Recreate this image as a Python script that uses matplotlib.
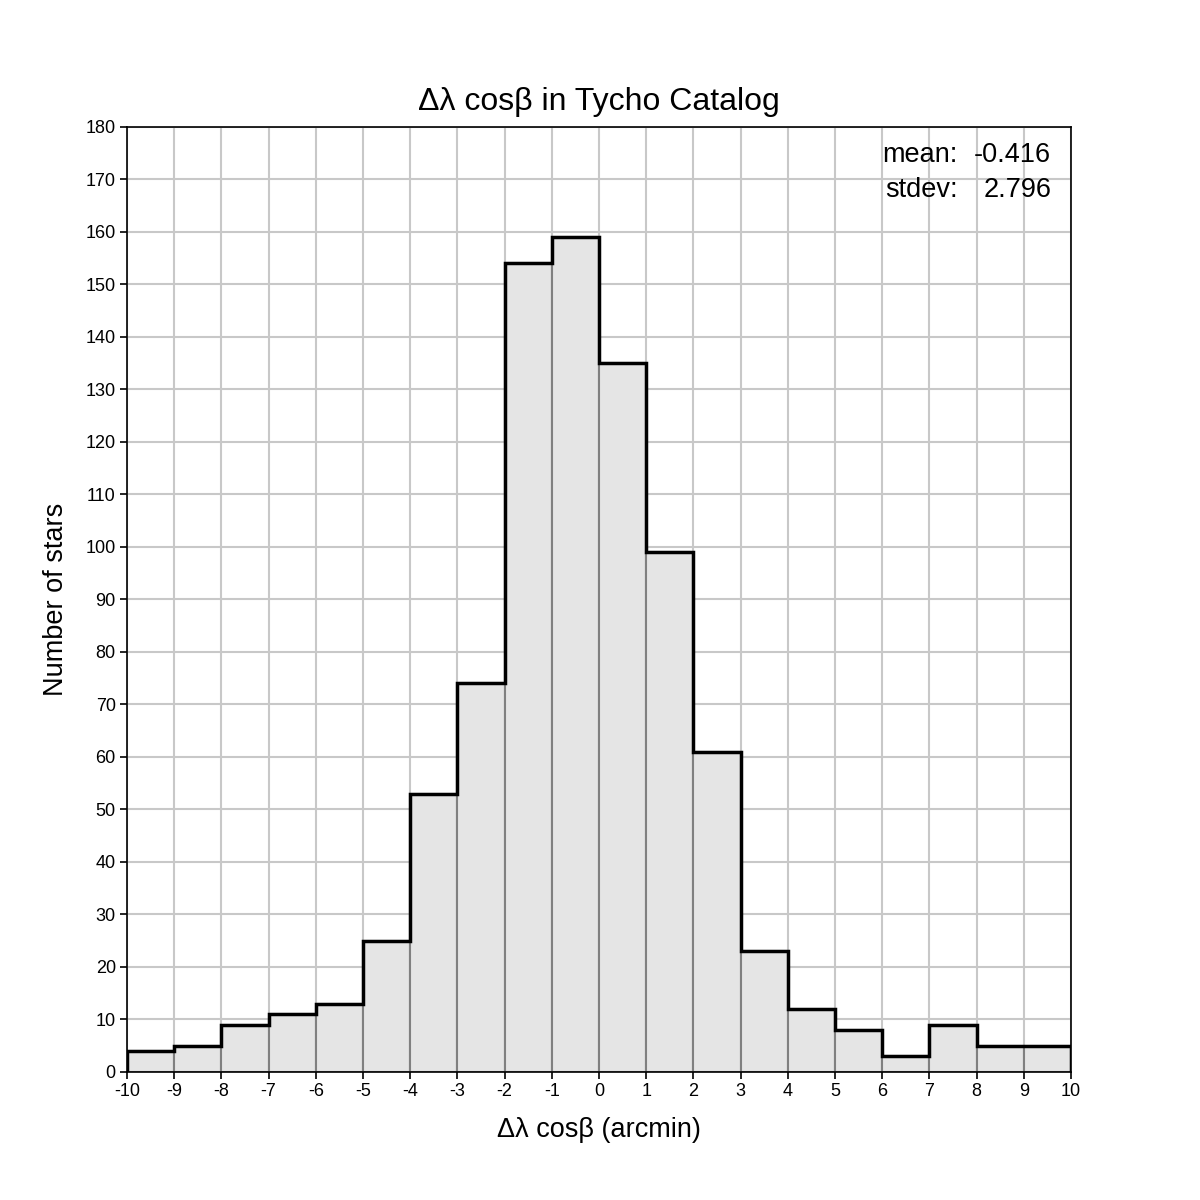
import matplotlib
matplotlib.use("Agg")
import matplotlib.pyplot as plt
import numpy as np

plt.rcParams['font.family'] = ['Liberation Sans', 'DejaVu Sans']

# histogram bins (arcmin) and counts
bin_edges = list(range(-10, 11))
counts = [4, 5, 9, 11, 13, 25, 53, 74, 154, 159, 135, 99, 61, 23, 12, 8, 3, 9, 5, 5]
stat_labels = ["mean:", "stdev:"]
stat_values = ["-0.416", "2.796"]

fig = plt.figure(figsize=(12, 12), dpi=100)
ax = fig.add_axes([0.1058, 0.1067, 0.7867, 0.7875])

edges = np.array(bin_edges)
ax.bar(edges[:-1], counts, width=1, align='edge', color='#e5e5e5',
       edgecolor='#808080', linewidth=1.5, zorder=2)
ax.stairs(counts, edges, color='black', linewidth=2.5, zorder=3)

ax.set_xlim(-10, 10)
ax.set_ylim(0, 180)
ax.set_xticks(bin_edges)
ax.set_xticklabels([str(v) for v in bin_edges])
ax.set_yticks(range(0, 181, 10))
ax.grid(True, color='#c8c8c8', linewidth=1.5, zorder=0)
ax.set_axisbelow(True)
ax.tick_params(labelsize=13, length=5, width=1.2, pad=3)
for s in ax.spines.values():
    s.set_linewidth(1.2)
    s.set_zorder(4)

ax.set_title("Δλ cosβ in Tycho Catalog", fontsize=23, pad=12)
ax.set_xlabel("Δλ cosβ (arcmin)", fontsize=19.5, labelpad=12)
ax.set_ylabel("Number of stars", fontsize=19.5, labelpad=12)

for i, (lab, val) in enumerate(zip(stat_labels, stat_values)):
    y = 0.970 - i * 0.037
    ax.text(0.880, y, lab, transform=ax.transAxes, ha='right', va='center', fontsize=19.5, zorder=5)
    ax.text(0.979, y, val, transform=ax.transAxes, ha='right', va='center', fontsize=19.5, zorder=5)

fig.savefig("out.png", dpi=100)
